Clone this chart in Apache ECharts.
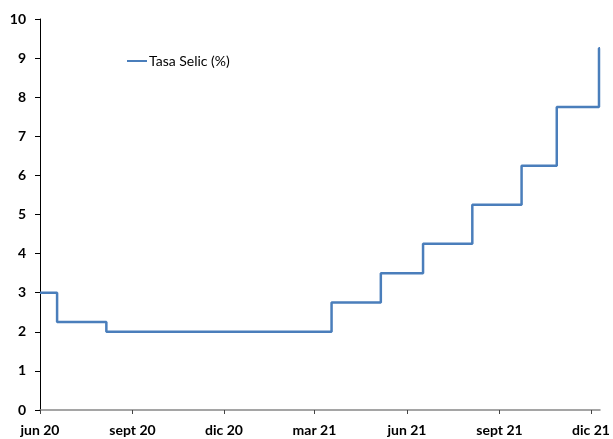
<!DOCTYPE html>
<html>
<head>
<meta charset="utf-8">
<script src="https://cdn.jsdelivr.net/npm/echarts@6/dist/echarts.min.js"></script>
<style>html,body{margin:0;padding:0;background:#fff;}#c{width:613px;height:439px;}</style>
</head>
<body>
<div id="c"></div>
<script>
// Data: effective dates of Selic changes and the rate from that date
const dates = ['2020-06-01', '2020-06-18', '2020-08-06', '2021-03-18', '2021-05-06', '2021-06-17', '2021-08-05', '2021-09-23', '2021-10-28', '2021-12-09', '2021-12-10'];
const selic = [3, 2.25, 2, 2.75, 3.5, 4.25, 5.25, 6.25, 7.75, 9.25, 9.25];
const tickDates = ['2020-06-01', '2020-09-01', '2020-12-01', '2021-03-01', '2021-06-01', '2021-09-01', '2021-12-01'];
const tickLabels = ['jun 20', 'sept 20', 'dic 20', 'mar 21', 'jun 21', 'sept 21', 'dic 21'];
const seriesName = 'Tasa Selic (%)';
const axisStart = '2020-06-01';
const axisEnd = '2021-12-10';

const day = d => Math.round((new Date(d + 'T00:00:00Z').getTime() - new Date(axisStart + 'T00:00:00Z').getTime()) / 86400000);
const tickDays = tickDates.map(day);
const chart = echarts.init(document.getElementById('c'));
chart.setOption({
  animation: false,
  textStyle: { fontFamily: 'Lato' },
  grid: { left: 40, right: 13, top: 19, bottom: 29, containLabel: false },
  legend: {
    left: 127, top: 54, padding: 0,
    icon: 'rect', itemWidth: 20, itemHeight: 2,
    textStyle: { fontFamily: 'Lato', fontSize: 14, color: '#000', padding: [0, 0, 0, -3] },
    data: [seriesName]
  },
  xAxis: {
    type: 'value',
    min: 0, max: day(axisEnd),
    splitLine: { show: false },
    axisLine: { lineStyle: { color: '#888', width: 1.5 } },
    axisTick: { show: true, length: 4, customValues: tickDays, lineStyle: { color: '#444' } },
    axisLabel: {
      customValues: tickDays,
      margin: 13,
      fontFamily: 'Lato', fontSize: 14, fontWeight: 'bold', color: '#000',
      formatter: function (v) {
        const i = tickDays.indexOf(v);
        return i >= 0 ? tickLabels[i] : '';
      }
    }
  },
  yAxis: {
    type: 'value', min: 0, max: 10, interval: 1,
    splitLine: { show: false },
    axisLine: { show: true, lineStyle: { color: '#000', width: 1 } },
    axisTick: { show: true, length: 5, lineStyle: { color: '#000' } },
    axisLabel: { margin: 14, fontFamily: 'Lato', fontSize: 14, fontWeight: 'bold', color: '#000' }
  },
  series: [{
    name: seriesName,
    type: 'line',
    step: 'end',
    symbol: 'none',
    lineStyle: { color: '#4a7ebb', width: 2.5 },
    itemStyle: { color: '#4a7ebb' },
    data: dates.map((d, i) => [day(d), selic[i]])
  }]
});
</script>
</body>
</html>
